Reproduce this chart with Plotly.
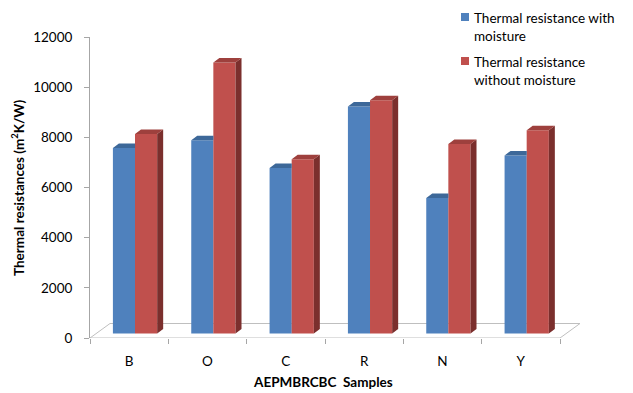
import plotly.graph_objects as go

# ---- data ----
samples = ["B", "O", "C", "R", "N", "Y"]
with_moisture = [7400, 7700, 6600, 9050, 5400, 7100]
without_moisture = [7950, 10800, 6950, 9300, 7550, 8100]
y_ticks = [0, 2000, 4000, 6000, 8000, 10000, 12000]
y_tick_labels = [str(v) for v in y_ticks]
series_names = ["Thermal resistance with<br>moisture",
                "Thermal resistance<br>without moisture"]

# ---- geometry ----
W, H = 633, 393
L, R, T, B = 90, 52, 37, 55
plot_w, plot_h = W - L - R, H - T - B
x_range = [-0.5, 5.768]
y_range = [0, 12000]
ux = (x_range[1] - x_range[0]) / plot_w   # x data units per pixel
uy = (y_range[1] - y_range[0]) / plot_h   # y data units per pixel

bar_w = 0.283
offsets = [-0.066, 0.216]
base = 4.5 * uy            # bars stand slightly behind the front edge of the floor
dx, dy = 6 * ux, 4.5 * uy  # bar depth (oblique projection)
floor_dx, floor_dy = 20 * ux, 14.5 * uy

front_cols = ["#4F81BD", "#C0504D"]
top_cols = ["#3D6899", "#9E403D"]
side_cols = ["#2F5178", "#7B2F2D"]
font = "Lato, 'Open Sans', sans-serif"

fig = go.Figure()

xs = list(range(len(samples)))
for k, vals in enumerate([with_moisture, without_moisture]):
    xc = [i + offsets[k] for i in xs]
    fig.add_trace(go.Bar(
        x=xc, y=vals, base=base, width=bar_w,
        marker=dict(color=front_cols[k], line=dict(width=0)),
        name=series_names[k], showlegend=False, hoverinfo="skip",
    ))
    top_x, top_y, side_x, side_y = [], [], [], []
    for i, v in enumerate(vals):
        x0 = xc[i] - bar_w / 2
        x1 = xc[i] + bar_w / 2
        t = base + v
        if k == 0:
            # the neighbouring taller bar hides the right part of the top face
            top_x += [x0, x1, x1, x0 + dx, x0, None]
            top_y += [t, t, t + dy, t + dy, t, None]
        else:
            top_x += [x0, x1, x1 + dx, x0 + dx, x0, None]
            top_y += [t, t, t + dy, t + dy, t, None]
            side_x += [x1, x1 + dx, x1 + dx, x1, x1, None]
            side_y += [base, base + dy, t + dy, t, base, None]
    if side_x:
        fig.add_trace(go.Scatter(
            x=side_x, y=side_y, mode="lines", fill="toself",
            fillcolor=side_cols[k], line=dict(width=0),
            showlegend=False, hoverinfo="skip"))
    fig.add_trace(go.Scatter(
        x=top_x, y=top_y, mode="lines", fill="toself",
        fillcolor=top_cols[k], line=dict(width=0),
        showlegend=False, hoverinfo="skip"))

# floor of the 3-D plot
fx0, fx1 = x_range[0], len(samples) - 0.5
floor_path = (f"M {fx0},0 L {fx1},0 L {fx1 + floor_dx},{floor_dy} "
              f"L {fx0 + floor_dx},{floor_dy} Z")
fig.add_shape(type="path", path=floor_path, xref="x", yref="y",
              line=dict(color="#BFBFBF", width=1), fillcolor="white",
              layer="below")

fig.update_xaxes(
    range=x_range, tickvals=xs, ticktext=samples, ticks="",
    showgrid=False, zeroline=False, showline=False,
    tickfont=dict(family=font, size=13.5, color="#000"),
    ticklabelstandoff=13,
    minor=dict(tickvals=[i - 0.5 for i in range(len(samples) + 1)],
               ticks="outside", ticklen=5, tickcolor="#A6A6A6", tickwidth=1,
               showgrid=False),
)
fig.update_yaxes(
    range=y_range, tickvals=y_ticks, ticktext=y_tick_labels,
    ticks="outside", ticklen=5,
    tickcolor="#A6A6A6", showline=True, linecolor="#A6A6A6", linewidth=1,
    showgrid=False, zeroline=False,
    tickfont=dict(family=font, size=13.5, color="#000"),
    ticklabelstandoff=9,
)

def px_x(p):
    return (p - L) / plot_w

def px_y(p):
    return 1 - (p - T) / plot_h

annotations = [
    dict(text="Thermal resistances (m<sup>2</sup>K/W)", textangle=-90,
         x=px_x(18), y=px_y(188), xref="paper", yref="paper",
         xanchor="center", yanchor="middle",
         showarrow=False, font=dict(family=font, size=13.5, color="#000",
                                    weight="bold")),
    dict(text="AEPMBRCBC  Samples", x=px_x(323), y=px_y(382),
         xref="paper", yref="paper", xanchor="center", yanchor="middle",
         showarrow=False,
         font=dict(family=font, size=13.5, color="#000", weight="bold")),
]
# legend drawn as swatches + text
legend_rows = [(13, 8), (57, 52)]
for k, (sq_top, txt_top) in enumerate(legend_rows):
    fig.add_shape(type="rect", xref="paper", yref="paper",
                  x0=px_x(461), x1=px_x(469), y0=px_y(sq_top + 8), y1=px_y(sq_top),
                  fillcolor=front_cols[k], line=dict(width=0))
    annotations.append(dict(
        text=series_names[k], x=px_x(472), y=px_y(txt_top),
        xref="paper", yref="paper", xanchor="left", yanchor="top",
        align="left", showarrow=False,
        font=dict(family=font, size=13.5, color="#000")))

fig.update_layout(
    width=W, height=H, margin=dict(l=L, r=R, t=T, b=B),
    paper_bgcolor="white", plot_bgcolor="white",
    barmode="overlay", showlegend=False, annotations=annotations,
)

fig.write_html("out.html")
